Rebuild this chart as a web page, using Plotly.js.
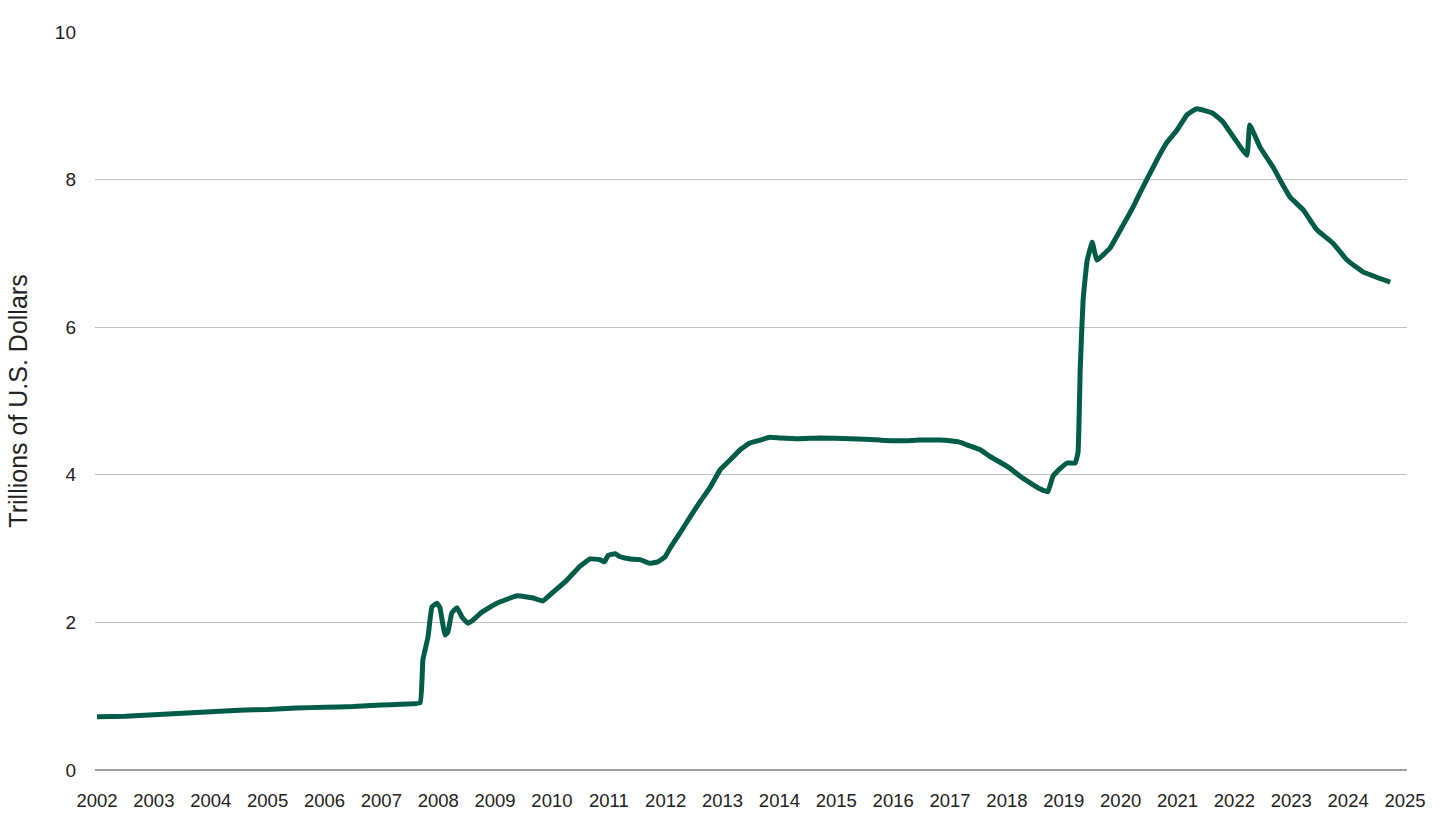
<!DOCTYPE html>
<html>
<head>
<meta charset="utf-8">
<script src="https://cdn.plot.ly/plotly-3.0.1.min.js"></script>
<style>html,body{margin:0;padding:0;background:#fff;}#chart{width:1440px;height:826px;}</style>
</head>
<body>
<div id="chart"></div>
<script>
// Positions on the chart's year axis (decimal years, as placed on the axis labels)
const years = [
  2002.00, 2002.50, 2003.00, 2003.50, 2004.00, 2004.50, 2005.00, 2005.50, 2006.00, 2006.50,
  2007.00, 2007.33, 2007.68, 2007.73, 2007.82, 2007.89, 2007.98, 2008.03, 2008.12, 2008.17,
  2008.24, 2008.33, 2008.42, 2008.52, 2008.61, 2008.77, 2009.03, 2009.39, 2009.67, 2009.84,
  2010.02, 2010.26, 2010.49, 2010.67, 2010.84, 2010.92, 2010.99, 2011.11, 2011.20, 2011.37,
  2011.55, 2011.72, 2011.86, 2011.99, 2012.08, 2012.25, 2012.43, 2012.60, 2012.78, 2012.96,
  2013.13, 2013.31, 2013.48, 2013.66, 2013.83, 2014.01, 2014.36, 2014.71, 2015.24, 2015.77,
  2016.12, 2016.47, 2016.82, 2017.00, 2017.18, 2017.35, 2017.53, 2017.70, 2017.88, 2018.05,
  2018.23, 2018.41, 2018.58, 2018.72, 2018.81, 2018.93, 2019.06, 2019.20, 2019.25, 2019.29,
  2019.34, 2019.41, 2019.50, 2019.58, 2019.81, 2020.04, 2020.22, 2020.34, 2020.52, 2020.64,
  2020.81, 2020.99, 2021.17, 2021.34, 2021.62, 2021.80, 2021.98, 2022.22, 2022.27, 2022.45,
  2022.68, 2022.80, 2022.98, 2023.21, 2023.45, 2023.73, 2023.98, 2024.26, 2024.74
];
// Fed balance sheet, trillions of U.S. dollars
const assets = [
  0.72, 0.73, 0.75, 0.77, 0.79, 0.81, 0.82, 0.84, 0.85, 0.86,
  0.88, 0.89, 0.91, 1.49, 1.80, 2.21, 2.26, 2.20, 1.83, 1.87,
  2.13, 2.20, 2.07, 1.99, 2.03, 2.14, 2.26, 2.36, 2.33, 2.29,
  2.41, 2.57, 2.76, 2.86, 2.85, 2.82, 2.91, 2.93, 2.89, 2.86,
  2.85, 2.80, 2.82, 2.89, 3.01, 3.21, 3.43, 3.63, 3.83, 4.07,
  4.20, 4.34, 4.43, 4.47, 4.51, 4.50, 4.49, 4.50, 4.49, 4.47,
  4.46, 4.47, 4.47, 4.46, 4.44, 4.39, 4.34, 4.25, 4.17, 4.09,
  3.98, 3.89, 3.81, 3.77, 3.98, 4.08, 4.16, 4.16, 4.30, 5.46,
  6.37, 6.90, 7.15, 6.91, 7.07, 7.38, 7.63, 7.82, 8.09, 8.27,
  8.50, 8.67, 8.88, 8.96, 8.90, 8.78, 8.58, 8.33, 8.74, 8.44,
  8.17, 8.00, 7.76, 7.59, 7.32, 7.14, 6.91, 6.75, 6.61
];
const yearTicks = [2002,2003,2004,2005,2006,2007,2008,2009,2010,2011,2012,2013,2014,2015,2016,2017,2018,2019,2020,2021,2022,2023,2024,2025];
const yearLabels = yearTicks.map(String);
const yTicks = [0, 2, 4, 6, 8, 10];

const font = 'Liberation Sans, Arial, Helvetica, sans-serif';

Plotly.newPlot('chart', [{
  x: years, y: assets, type: 'scatter', mode: 'lines',
  line: {color: '#005C46', width: 5, shape: 'spline', smoothing: 0.3},
  hoverinfo: 'x+y'
}], {
  width: 1440, height: 826,
  margin: {l: 95, r: 33, t: 32, b: 56},
  paper_bgcolor: '#fff', plot_bgcolor: '#fff',
  showlegend: false,
  font: {family: font, size: 18, color: '#222'},
  xaxis: {
    range: [2001.965, 2025.035],
    tickmode: 'array', tickvals: yearTicks, ticktext: yearLabels,
    showgrid: false, zeroline: false,
    showline: false, ticks: '',
    ticklabelstandoff: 17,
    tickfont: {family: font, size: 18.5, color: '#222'}
  },
  yaxis: {
    range: [0, 10],
    tickmode: 'array', tickvals: yTicks, ticktext: yTicks.map(String),
    showgrid: true, gridcolor: '#c2c2c2', gridwidth: 1.4,
    zeroline: true, zerolinecolor: '#a0a0a0', zerolinewidth: 2.5,
    showline: false, ticks: '',
    ticklabelstandoff: 18,
    tickfont: {family: font, size: 19, color: '#222'},
    title: {text: 'Trillions of U.S. Dollars', font: {family: font, size: 25, color: '#222'}, standoff: 20}
  }
}, {displayModeBar: false, staticPlot: true});
</script>
</body>
</html>
